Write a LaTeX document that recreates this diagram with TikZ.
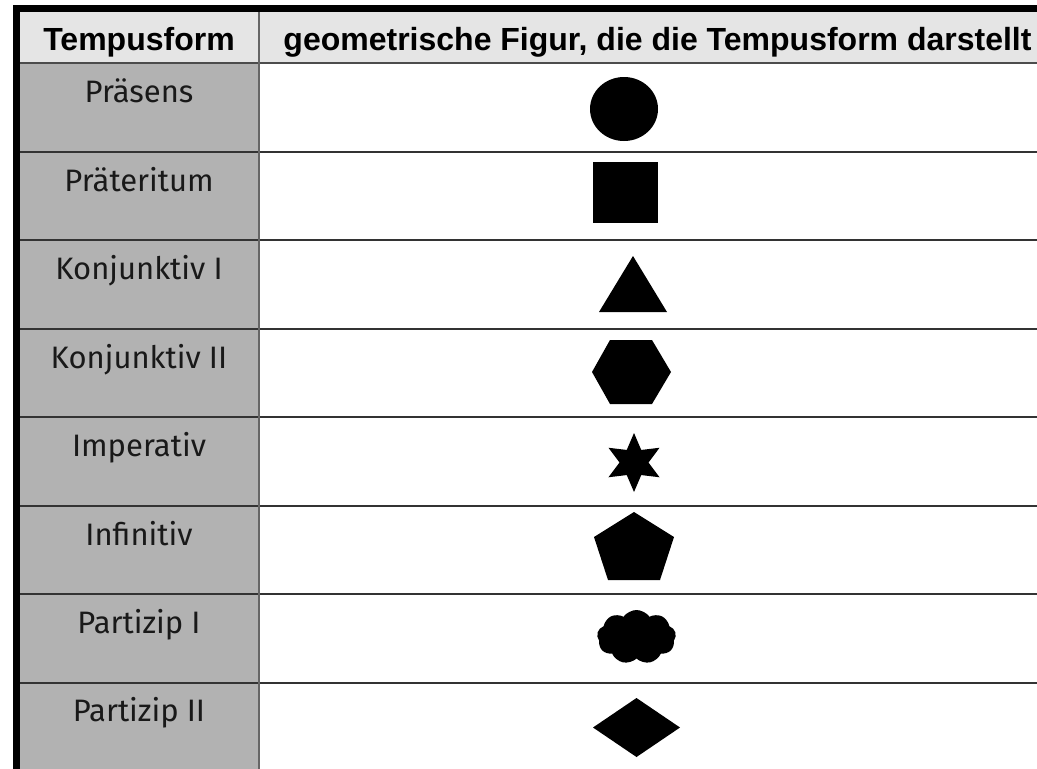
\documentclass[tikz,border=0pt]{standalone}
\usepackage{fontspec}
\setmainfont{Fira Sans}
\newfontfamily\headfont{Liberation Sans}
\usetikzlibrary{calc, shapes.geometric, shapes.symbols}

\tikzset{
	rowline/.style={draw=black!80, line width=1.3pt},
	kopf/.style={font=\headfont\bfseries\fontsize{32}{36}\selectfont, anchor=base, inner sep=0pt},
	tempus/.style={font=\fontsize{31}{35}\selectfont, anchor=base, inner sep=0pt, text=black!90},
	figur/.style={fill=black, draw=none, inner sep=0pt},
}

\begin{document}
\begin{tikzpicture}[x=1pt, y=-1pt]
	\useasboundingbox (0,0) rectangle (1037,769);

	% Hintergruende
	\fill[black!10] (20,12) rectangle (1037,63);
	\fill[black!30] (20,63) rectangle (259,769);

	% Linien
	\foreach \y in {152,240,329,417,506,594,683}
		\draw[rowline] (20,\y) -- (1037,\y);
	\draw[draw=black!70, line width=1.6pt] (20,63) -- (1037,63);
	\draw[draw=black!60, line width=1.3pt] (259,12) -- (259,769);
	\fill[black] (13,5) rectangle (1037,12);
	\fill[black] (13,5) rectangle (20,769);

	% Kopfzeile
	\node[kopf] (kopfL) at (139,50) {Tempusform};
	\node[kopf] (kopfR) at (657.5,50) {geometrische Figur, die die Tempusform darstellt};

	% Tempusformen
	\node[tempus] (praesens) at (139,102) {Präsens};
	\node[tempus] (praeteritum) at (139,191) {Präteritum};
	\node[tempus] (konjI) at (139,279) {Konjunktiv I};
	\node[tempus] (konjII) at (139,368) {Konjunktiv II};
	\node[tempus] (imperativ) at (139,456) {Imperativ};
	\node[tempus] (infinitiv) at (139,545) {Infinitiv};
	\node[tempus] (partI) at (139,633) {Partizip I};
	\node[tempus] (partII) at (139,721) {Partizip II};

	% Figuren
	\node[figur, ellipse, minimum width=68pt, minimum height=64pt] (kreis) at (624,109) {};
	\node[figur, rectangle, minimum width=65pt, minimum height=61pt] (quadrat) at (625.5,192.5) {};
	\fill (633,256) -- (667,312) -- (599,312) -- cycle;
	\fill (592,372) -- (610,340) -- (652,340) -- (671,372) -- (652,404) -- (610,404) -- cycle;
	\coordinate (sternM) at (634,462.5);
	\fill (634,433) \foreach \a in {1,...,11} {
		-- ($(sternM)+(270+\a*30:{ifthenelse(mod(\a,2)==0,29.5,14.5)})$)
	} -- cycle;
	\fill (634,512) -- (674,537) -- (660,580) -- (608,580) -- (594,537) -- cycle;
	\node[figur, cloud, cloud puffs=9, cloud puff arc=110, aspect=1.5, minimum width=79pt, minimum height=54pt] (wolke) at (636.5,637) {};
	\fill (593,727.5) -- (636.5,698) -- (680,727.5) -- (636.5,757) -- cycle;
\end{tikzpicture}
\end{document}
